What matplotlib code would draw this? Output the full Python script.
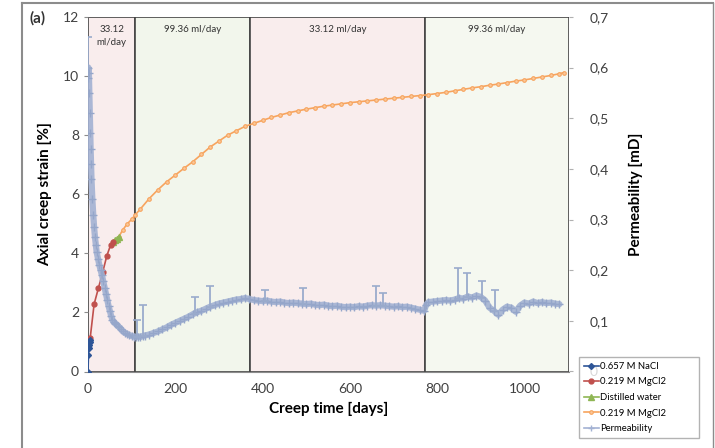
import matplotlib.pyplot as plt
from matplotlib.lines import Line2D
import numpy as np

plt.rcParams['font.family'] = ['Lato', 'DejaVu Sans']

# creep strain series [%]
nacl_t = [0, 1, 2, 3, 4, 5]
nacl_strain = [0.0, 0.55, 0.8, 0.9, 1.0, 1.05]

mg1_t = [5, 14, 24, 34, 43, 52, 58]
mg1_strain = [1.13, 2.28, 2.83, 3.38, 3.91, 4.29, 4.38]

water_t = [58, 62, 66, 70]
water_strain = [4.38, 4.45, 4.5, 4.55]

mg2_t = [70, 80, 90, 100, 108, 120, 140, 160, 180, 200, 220, 240, 260, 280, 300,
         320, 340, 360, 380, 400, 420, 440, 460, 480, 500, 520, 540, 560, 580, 600,
         620, 640, 660, 680, 700, 720, 740, 760, 780, 800, 820, 840, 860, 880, 900,
         920, 940, 960, 980, 1000, 1020, 1040, 1060, 1080, 1090]
mg2_strain = [4.55, 4.8, 5.0, 5.15, 5.3, 5.5, 5.85, 6.15, 6.42, 6.65, 6.88, 7.1, 7.35, 7.6, 7.8,
              8.0, 8.15, 8.3, 8.4, 8.5, 8.6, 8.68, 8.76, 8.82, 8.88, 8.93, 8.98, 9.02, 9.06, 9.1,
              9.13, 9.16, 9.19, 9.22, 9.25, 9.28, 9.31, 9.34, 9.37, 9.41, 9.45, 9.5, 9.55, 9.6, 9.64,
              9.69, 9.73, 9.78, 9.83, 9.87, 9.92, 9.97, 10.02, 10.08, 10.12]

# permeability [mD]
perm_t = [0, 1, 2, 3, 4, 5, 6, 7, 8, 10, 12, 14, 16, 18, 20, 23, 26, 29, 32, 35, 38, 41, 44, 47,
          50, 53, 56, 59, 62, 65, 68, 72, 76, 80, 85, 90, 95, 100, 105, 110, 115, 120, 125, 130,
          140, 150, 160, 170, 180, 190, 200, 210, 220, 230, 240, 250, 260, 270, 280, 290, 300,
          310, 320, 330, 340, 350, 360, 370, 380, 390, 400, 410, 420, 430, 440, 450, 460, 470,
          480, 490, 500, 510, 520, 530, 540, 550, 560, 570, 580, 590, 600, 610, 620, 630, 640,
          650, 660, 670, 680, 690, 700, 710, 720, 730, 740, 750, 760, 770, 775, 780, 790, 800,
          810, 820, 830, 840, 850, 860, 870, 880, 890, 900, 910, 920, 930, 940, 950, 960, 970,
          980, 990, 1000, 1010, 1020, 1030, 1040, 1050, 1060, 1070, 1080]
perm = [0.58, 0.60, 0.59, 0.55, 0.51, 0.47, 0.44, 0.41, 0.38, 0.34, 0.31, 0.285, 0.265, 0.25,
        0.235, 0.222, 0.21, 0.2, 0.19, 0.178, 0.165, 0.153, 0.142, 0.13, 0.12, 0.11, 0.102,
        0.097, 0.095, 0.093, 0.09, 0.087, 0.083, 0.079, 0.076, 0.074, 0.072, 0.07, 0.069,
        0.068, 0.069, 0.068, 0.07, 0.071, 0.073, 0.076, 0.079, 0.083, 0.087, 0.092, 0.096,
        0.1, 0.104, 0.108, 0.113, 0.117, 0.12, 0.124, 0.128, 0.131, 0.134, 0.136, 0.138, 0.14,
        0.142, 0.143, 0.145, 0.143, 0.141, 0.14, 0.139, 0.14, 0.138, 0.137, 0.138, 0.136,
        0.135, 0.136, 0.135, 0.134, 0.133, 0.134, 0.132, 0.131, 0.132, 0.13, 0.129, 0.13,
        0.128, 0.127, 0.128, 0.127, 0.129, 0.128, 0.13, 0.131, 0.13, 0.131, 0.13, 0.129,
        0.128, 0.129, 0.127, 0.128, 0.126, 0.124, 0.122, 0.12, 0.132, 0.137, 0.138, 0.139,
        0.14, 0.141, 0.14, 0.142, 0.145, 0.144, 0.148, 0.146, 0.15, 0.147, 0.14, 0.126, 0.12,
        0.112, 0.122, 0.128, 0.126, 0.118, 0.13, 0.136, 0.134, 0.138, 0.135, 0.137, 0.135,
        0.136, 0.134, 0.133]

# occasional upward error bars on permeability
spike_t = [1, 112, 126, 245, 280, 405, 493, 660, 676, 848, 868, 903, 932]
spike_val = [0.60, 0.068, 0.070, 0.114, 0.128, 0.139, 0.134, 0.13, 0.13, 0.144, 0.147, 0.146, 0.12]
spike_top = [0.66, 0.102, 0.132, 0.148, 0.168, 0.161, 0.165, 0.168, 0.155, 0.205, 0.195, 0.178, 0.161]

# flow rate stages
stage_edges = [0, 108, 371, 772, 1102]
stage_labels = ['33.12\nml/day', '99.36 ml/day', '33.12 ml/day', '99.36 ml/day']
stage_colors = ['#f9eded', '#f2f6ec', '#f9eded', '#f5f8f0']

fig = plt.figure(figsize=(7.15, 4.48), dpi=100)
ax = fig.add_axes([88 / 715, 1 - 371.5 / 448, (569 - 88) / 715, (371.5 - 17) / 448])

for i in range(len(stage_labels)):
    ax.axvspan(stage_edges[i], stage_edges[i + 1], facecolor=stage_colors[i],
               edgecolor='#454545', lw=1.2, zorder=0)
    ax.text((stage_edges[i] + stage_edges[i + 1]) / 2, 11.72, stage_labels[i],
            ha='center', va='top', fontsize=7, color='#333333', linespacing=1.5)

ax.plot(mg2_t, mg2_strain, color='#f7a45e', lw=1.2, marker='o', ms=2.6,
        mfc='#fbc89a', mec='#f7a45e', mew=0.8, zorder=3, label='0.219 M MgCl2')
ax.plot(water_t, water_strain, color='#8fb654', lw=1.2, marker='^', ms=4, zorder=4,
        label='Distilled water')
ax.plot(mg1_t, mg1_strain, color='#c0504d', lw=1.2, marker='o', ms=3.5, zorder=4,
        label='0.219 M MgCl2')
ax.plot(nacl_t, nacl_strain, color='#2e5597', lw=1.2, marker='D', ms=3, zorder=4,
        label='0.657 M NaCl')

ax.set_xlim(0, 1102)
ax.set_ylim(0, 12)
ax.set_xticks([0, 200, 400, 600, 800, 1000])
ax.set_yticks([0, 2, 4, 6, 8, 10, 12])
for s in ['top', 'right', 'left']:
    ax.spines[s].set_visible(False)
ax.spines['bottom'].set_color('#8c8c8c')
ax.tick_params(axis='both', labelsize=10, colors='#8c8c8c', labelcolor='#404040', length=3)
ax.tick_params(axis='x', length=0, pad=8)
ax.set_xlabel('Creep time [days]', fontsize=11, fontweight='bold', labelpad=5)
ax.set_ylabel('Axial creep strain [%]', fontsize=11, fontweight='bold', labelpad=8)

ax2 = ax.twinx()
ax2.plot(perm_t, perm, color='#a3b2d3', lw=4.5, alpha=0.9, zorder=2, solid_capstyle='round')
ax2.plot(perm_t, perm, color='#95a6ca', lw=0, marker='+', ms=6, mew=1.0, zorder=2)
ax2.errorbar(spike_t, spike_val,
             yerr=[np.zeros(len(spike_val)), np.array(spike_top) - np.array(spike_val)],
             fmt='none', ecolor='#9aabcc', elinewidth=1.3, capsize=3, capthick=1.2)
ax2.set_ylim(0, 0.7)
ax2.set_yticks(np.arange(0, 0.71, 0.1))
ax2.set_yticklabels(['0', '0,1', '0,2', '0,3', '0,4', '0,5', '0,6', '0,7'])
for s in ax2.spines.values():
    s.set_visible(False)
ax2.tick_params(axis='y', labelsize=10, colors='#b0b0b0', labelcolor='#404040', length=3, pad=12)
ax2.set_ylabel('Permeability [mD]', fontsize=11, fontweight='bold', labelpad=14)

h1, l1 = ax.get_legend_handles_labels()
order = [3, 2, 1, 0]
handles = [h1[i] for i in order]
handles.append(Line2D([], [], color='#a3b2d3', lw=1.2, marker='+', ms=5))
labels = [l1[i] for i in order] + ['Permeability']
leg = fig.legend(handles, labels, loc='lower left',
                 bbox_to_anchor=(579 / 715, 10 / 448, 120 / 715, 93 / 448), mode='expand',
                 fontsize=6.8, frameon=True, fancybox=False, edgecolor='#a0a0a0',
                 handlelength=1.6, handletextpad=0.1, borderpad=0.5, labelspacing=0.7,
                 borderaxespad=0)
leg.get_frame().set_linewidth(1.0)

fig.text(30 / 715, 1 - 18 / 448, '(a)', fontsize=11, fontweight='bold', va='center', color='#333333')

# outer frame
fig.add_artist(Line2D([22 / 715, 22 / 715], [0, 1 - 3 / 448], color='#8c8c8c', lw=1.5))
fig.add_artist(Line2D([22 / 715, 713 / 715], [1 - 3 / 448, 1 - 3 / 448], color='#8c8c8c', lw=1.5))
fig.add_artist(Line2D([713 / 715, 713 / 715], [0, 1 - 3 / 448], color='#8c8c8c', lw=1.0))

fig.savefig('out.png', dpi=100)
